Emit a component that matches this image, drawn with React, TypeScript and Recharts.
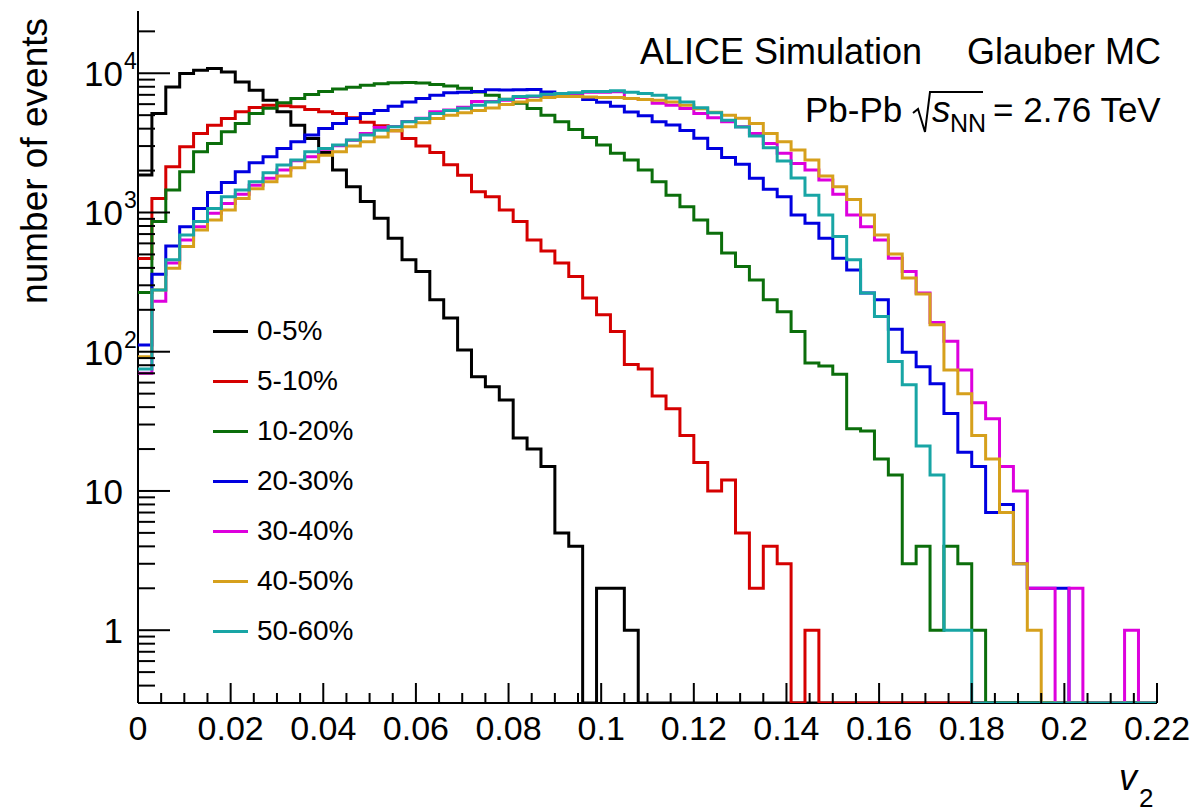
import { ComposedChart, Line, XAxis, YAxis, Legend } from "recharts";

const FONT = '"Liberation Sans", Arial, Helvetica, sans-serif';

// histogram binning (v2 bins of 0.003, axis shown up to 0.22)
const V2_BIN_WIDTH = 0.003;
const V2_MAX = 0.22;
const X_MINOR_STEP = 0.005;
const Y_MIN = 0.3;
const Y_MAX = 28000;

const centralityLabels = ["0-5%", "5-10%", "10-20%", "20-30%", "30-40%", "40-50%", "50-60%"];
const seriesColors = ["#000000", "#d50000", "#0b6e0b", "#0000e0", "#dd00dd", "#d6a01c", "#18a5a5"];

// events per v2 bin (0 = empty bin)
const counts0to5 = [
  1860, 5140, 7980, 9950, 10500, 10800, 10230, 8670, 7550, 6400,
  5290, 4240, 3400, 2700, 2020, 1530, 1200, 910, 654, 457,
  377, 236, 175, 103, 66, 56, 45, 24, 20, 15,
  5, 4, 0, 2, 2, 1, 0, 0, 0, 0,
  0, 0, 0, 0, 0, 0, 0, 0, 0, 0,
  0, 0, 0, 0, 0, 0, 0, 0, 0, 0,
  0, 0, 0, 0, 0, 0, 0, 0, 0, 0,
  0, 0, 0, 0,
];
const counts5to10 = [
  468, 1260, 2130, 2960, 3700, 4240, 4730, 5290, 5680, 5900,
  5850, 5740, 5500, 5300, 5140, 4800, 4450, 4200, 3870, 3400,
  3000, 2700, 2200, 1850, 1410, 1300, 1040, 860, 635, 530,
  433, 347, 243, 184, 140, 81, 75, 48, 39, 25,
  16, 10, 12, 5, 2, 4, 3, 0, 1, 0,
  0, 0, 0, 0, 0, 0, 0, 0, 0, 0,
  0, 0, 0, 0, 0, 0, 0, 0, 0, 0,
  0, 0, 0, 0,
];
const counts10to20 = [
  266, 860, 1450, 1960, 2730, 3130, 3800, 4360, 5140, 5600,
  6150, 6590, 7050, 7400, 7700, 7950, 8200, 8400, 8550, 8600,
  8500, 8300, 8100, 7800, 7350, 6950, 6500, 6100, 5580, 5000,
  4480, 3950, 3450, 3050, 2660, 2380, 2020, 1660, 1330, 1100,
  884, 709, 511, 409, 328, 236, 194, 140, 83, 79,
  69, 28, 27, 17, 13, 3, 4, 1, 4, 3,
  1, 0, 0, 0, 0, 0, 0, 0, 0, 0,
  0, 0, 0, 0,
];
const counts20to30 = [
  112, 360, 575, 791, 1070, 1390, 1640, 1960, 2280, 2510,
  2880, 3220, 3600, 4010, 4360, 4730, 5140, 5400, 5800, 6220,
  6590, 6950, 7230, 7300, 7400, 7600, 7580, 7600, 7650, 7350,
  7160, 6800, 6480, 6200, 5800, 5280, 4950, 4480, 4250, 3880,
  3420, 2880, 2480, 2220, 1760, 1470, 1300, 960, 836, 654,
  470, 387, 264, 236, 145, 99, 78, 59, 36, 19,
  15, 7, 8, 3, 2, 2, 2, 0, 0, 0,
  0, 0, 0, 0,
];
const counts30to40 = [
  70, 230, 433, 635, 791, 986, 1160, 1350, 1570, 1760,
  2020, 2350, 2510, 2850, 3020, 3300, 3700, 4080, 4150, 4500,
  4750, 5290, 5450, 5700, 6280, 6280, 6400, 6700, 6800, 7000,
  7100, 7150, 7300, 7300, 7380, 6590, 6490, 6100, 5900, 5580,
  5140, 4800, 4480, 4130, 3700, 3130, 2660, 2250, 2020, 1710,
  1350, 960, 791, 635, 470, 377, 264, 162, 119, 74,
  43, 33, 15, 10, 2, 2, 0, 2, 0, 0,
  0, 1, 0, 0,
];
const counts40to50 = [
  92, 278, 398, 569, 750, 884, 1040, 1260, 1480, 1660,
  1830, 2100, 2310, 2580, 2730, 3000, 3220, 3490, 3870, 4130,
  4410, 4730, 5000, 5200, 5400, 5640, 5960, 6220, 6400, 6700,
  6800, 6800, 6750, 6700, 6700, 6590, 6490, 6400, 6220, 5900,
  5550, 5250, 5000, 4750, 4360, 3700, 3220, 2810, 2380, 1830,
  1530, 1240, 960, 690, 504, 338, 260, 156, 74, 50,
  25, 17, 7, 3, 1, 0, 0, 0, 0, 0,
  0, 0, 0, 0,
];
const counts50to60 = [
  75, 278, 457, 690, 860, 1070, 1300, 1450, 1660, 1930,
  2190, 2380, 2730, 2880, 3050, 3310, 3600, 3900, 4130, 4480,
  4730, 5140, 5400, 5600, 5900, 6220, 6490, 6800, 6860, 7060,
  7160, 7230, 7400, 7400, 7480, 7300, 7160, 6950, 6650, 6220,
  5650, 5200, 4600, 4120, 3550, 2920, 2340, 1770, 1330, 960,
  671, 457, 264, 179, 85, 58, 21, 13, 1, 1,
  0, 0, 0, 0, 0, 0, 0, 0, 0, 0,
  0, 0, 0, 0,
];

const seriesCounts = [
  counts0to5, counts5to10, counts10to20, counts20to30,
  counts30to40, counts40to50, counts50to60,
];

const xMajorTicks = [0, 0.02, 0.04, 0.06, 0.08, 0.1, 0.12, 0.14, 0.16, 0.18, 0.2, 0.22];
const xTickLabels = ["0", "0.02", "0.04", "0.06", "0.08", "0.1", "0.12", "0.14", "0.16", "0.18", "0.2", "0.22"];
const yMajorTicks = [1, 10, 100, 1000, 10000];
const yTickLabels = [["1", ""], ["10", ""], ["10", "2"], ["10", "3"], ["10", "4"]];

// one row per bin lower edge, plus a closing row at the axis end
const NBINS = counts0to5.length;
const histRows = Array.from({ length: NBINS + 1 }, (_, i) => {
  const row: Record<string, number> = {
    v2: i < NBINS ? +(i * V2_BIN_WIDTH).toFixed(3) : V2_MAX,
  };
  seriesCounts.forEach((counts, s) => {
    const n = counts[Math.min(i, NBINS - 1)];
    row[`h${s}`] = n > 0 ? n : Y_MIN; // empty bins sit on the frame
  });
  return row;
});

const xTicks = Array.from(
  { length: Math.round(V2_MAX / X_MINOR_STEP) + 1 },
  (_, i) => +(i * X_MINOR_STEP).toFixed(3)
);

const yTicks: number[] = [];
[0.1, 1, 10, 100, 1000, 10000].forEach((decade) => {
  for (let m = 1; m <= 9; m++) {
    const v = +(decade * m).toPrecision(3);
    if (v >= Y_MIN - 1e-9 && v <= Y_MAX) yTicks.push(v);
  }
});

function V2Tick(props: any) {
  const { x, y, payload } = props;
  const step = Math.round(payload.value / X_MINOR_STEP);
  const major = step % 4 === 0;
  const label = major ? xTickLabels[xMajorTicks.indexOf(+(payload.value).toFixed(2))] : undefined;
  return (
    <g>
      <line x1={x} x2={x} y1={y} y2={y - (major ? 20 : 10)} stroke="#000" strokeWidth={2} />
      {label !== undefined && (
        <text x={x} y={y + 37} textAnchor="middle" fontSize={34} fontFamily={FONT} fill="#000">
          {label}
        </text>
      )}
    </g>
  );
}

function CountTick(props: any) {
  const { x, y, payload } = props;
  const idx = yMajorTicks.findIndex((t) => Math.abs(t - payload.value) < 1e-6);
  const major = idx >= 0;
  return (
    <g>
      <line x1={x} x2={x + (major ? 32 : 17)} y1={y} y2={y} stroke="#000" strokeWidth={2} />
      {major && (
        <g fontFamily={FONT} fill="#000">
          <text x={x - 15} y={y + 13} textAnchor="end" fontSize={35}>
            {yTickLabels[idx][0]}
          </text>
          {yTickLabels[idx][1] && (
            <text x={x - 14} y={y - 4} fontSize={23}>
              {yTickLabels[idx][1]}
            </text>
          )}
        </g>
      )}
    </g>
  );
}

function CentralityLegend(props: any) {
  const { payload = [] } = props;
  const ordered = [...payload].sort(
    (a: any, b: any) => centralityLabels.indexOf(a.value) - centralityLabels.indexOf(b.value)
  );
  return (
    <div style={{ fontFamily: FONT, fontSize: 28, color: "#000" }}>
      {ordered.map((entry: any) => (
        <div key={entry.value} style={{ display: "flex", alignItems: "center", height: 50 }}>
          <span style={{ display: "inline-block", width: 35, height: 3, background: entry.color, marginRight: 9 }} />
          <span>{entry.value}</span>
        </div>
      ))}
    </div>
  );
}

export default function App() {
  return (
    <div style={{ position: "absolute", left: 0, top: 0, width: 1196, height: 812, background: "#fff" }}>
      <ComposedChart
        width={1196}
        height={812}
        data={histRows}
        margin={{ top: 11, right: 39, bottom: 0, left: 0 }}
      >
        <XAxis
          dataKey="v2"
          type="number"
          domain={[0, V2_MAX]}
          ticks={xTicks}
          interval={0}
          tickSize={0}
          tickMargin={0}
          tickLine={false}
          tick={<V2Tick />}
          axisLine={{ stroke: "#000", strokeWidth: 2 }}
          height={109}
        />
        <YAxis
          type="number"
          scale="log"
          domain={[Y_MIN, Y_MAX]}
          allowDataOverflow
          ticks={yTicks}
          interval={0}
          tickSize={0}
          tickMargin={0}
          tickLine={false}
          tick={<CountTick />}
          axisLine={{ stroke: "#000", strokeWidth: 2 }}
          width={138}
        />
        <XAxis
          xAxisId="frameTop"
          orientation="top"
          type="number"
          domain={[0, V2_MAX]}
          tick={false}
          tickLine={false}
          height={0}
          axisLine={{ stroke: "#000", strokeWidth: 2 }}
        />
        <YAxis
          yAxisId="frameRight"
          orientation="right"
          type="number"
          scale="log"
          domain={[Y_MIN, Y_MAX]}
          tick={false}
          tickLine={false}
          width={0}
          axisLine={{ stroke: "#000", strokeWidth: 2 }}
        />
        {centralityLabels.map((name, s) => (
          <Line
            key={name}
            type="stepAfter"
            dataKey={`h${s}`}
            name={name}
            stroke={seriesColors[s]}
            strokeWidth={3}
            dot={false}
            activeDot={false}
            isAnimationActive={false}
            zIndex={600}
          />
        ))}
        <Legend
          layout="vertical"
          align="center"
          verticalAlign="middle"
          content={<CentralityLegend />}
          wrapperStyle={{ left: 213, top: 306, width: "auto" }}
        />
      </ComposedChart>

      <svg
        width={1196}
        height={812}
        style={{ position: "absolute", left: 0, top: 0, pointerEvents: "none" }}
        fontFamily={FONT}
        fill="#000"
      >
        <text transform="translate(47,18) rotate(-90)" textAnchor="end" fontSize={37}>
          number of events
        </text>
        <text x={1119} y={790} fontSize={36} fontStyle="italic">v</text>
        <text x={1139} y={807} fontSize={26}>2</text>

        <text x={640} y={64} fontSize={36}>ALICE Simulation</text>
        <text x={967} y={64} fontSize={36}>Glauber MC</text>

        <text x={805} y={122} fontSize={35}>Pb-Pb</text>
        <path d="M913,113 L918,109 L925,132 L930,92 L983,92" stroke="#000" strokeWidth={2} fill="none" />
        <text x={932} y={122} fontSize={37} fontStyle="italic">s</text>
        <text x={950} y={132} fontSize={25}>NN</text>
        <text x={993} y={122} fontSize={35}>= 2.76 TeV</text>
      </svg>
    </div>
  );
}
